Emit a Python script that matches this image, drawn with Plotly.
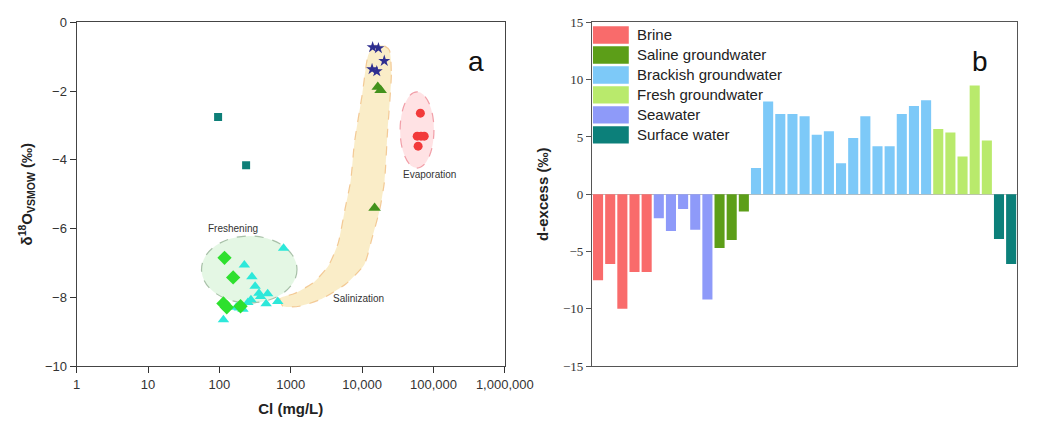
import plotly.graph_objects as go

# ---------------- Panel a data ----------------
brine_cl = [65600, 59200, 67000, 74300, 61000]
brine_o = [-2.64, -3.31, -3.31, -3.31, -3.60]
sea_cl = [14060, 16940, 20460, 13800, 16070]
sea_o = [-0.72, -0.75, -1.12, -1.36, -1.42]
saline_cl = [16600, 18200, 14970]
saline_o = [-1.88, -1.97, -5.40]
brackish_cl = [794, 224, 286, 317, 359, 475, 277, 452, 658, 173, 214, 114, 378, 251, 191]
brackish_o = [-6.57, -7.06, -7.40, -7.68, -7.88, -7.90, -8.07, -8.19, -8.12, -8.29, -8.35, -8.65, -7.98, -8.15, -8.31]
fresh_cl = [118, 156, 114, 127, 198]
fresh_o = [-6.85, -7.42, -8.18, -8.29, -8.26]
surface_cl = [96, 237]
surface_o = [-2.75, -4.16]

x_tickvals = [1, 10, 100, 1000, 10000, 100000, 1000000]
x_ticktext = ["1", "10", "100", "1000", "10,000", "100,000", "1,000,000"]
y_tickvals_a = [0, -2, -4, -6, -8, -10]

# salinization band outline (log10 Cl, d18O)
band_logx = [4.383, 4.41, 4.356, 4.315, 4.247, 4.138, 4.03, 3.772, 3.419, 3.121, 2.89,
             2.849, 3.053, 3.324, 3.528, 3.664, 3.759, 3.84, 3.894, 4.003, 4.084, 4.166, 4.301, 4.383]
band_y = [-0.81, -1.52, -3.20, -4.61, -5.45, -6.29, -7.05, -7.61, -8.06, -8.26, -8.26,
          -8.03, -7.89, -7.56, -7.08, -6.43, -5.45, -4.61, -3.48, -2.08, -0.96, -0.67, -0.67, -0.81]

# ---------------- Panel b data ----------------
groups = ["Brine", "Saline groundwater", "Brackish groundwater", "Fresh groundwater", "Seawater", "Surface water"]
colors = ["#F96B6B", "#5C9E18", "#7DC9F8", "#B9EA6C", "#8E9AF9", "#0C807A"]
order = ["Brine", "Seawater", "Saline groundwater", "Brackish groundwater", "Fresh groundwater", "Surface water"]
dex = {
    "Brine": [-7.5, -6.1, -10.0, -6.8, -6.8],
    "Seawater": [-2.1, -3.2, -1.3, -3.1, -9.2],
    "Saline groundwater": [-4.7, -4.0, -1.5],
    "Brackish groundwater": [2.3, 8.1, 7.0, 7.0, 6.8, 5.2, 5.5, 2.7, 4.9, 6.8, 4.2, 4.2, 7.0, 7.7, 8.2],
    "Fresh groundwater": [5.7, 5.4, 3.3, 9.5, 4.7],
    "Surface water": [-3.9, -6.1],
}
y_tickvals_b = [15, 10, 5, 0, -5, -10, -15]

FONT = "Arial, Liberation Sans, sans-serif"
fig = go.Figure()

# band
fig.add_trace(go.Scatter(x=[10 ** v for v in band_logx], y=band_y, mode="lines", fill="toself",
                         fillcolor="rgba(247,228,170,0.65)", line=dict(color="rgba(240,190,130,0.8)", width=1.2, dash="dash", shape="spline", smoothing=0.6),
                         xaxis="x", yaxis="y", hoverinfo="skip", showlegend=False))

def sc(x, y, sym, col, size):
    fig.add_trace(go.Scatter(x=x, y=y, mode="markers", xaxis="x", yaxis="y", showlegend=False,
                             marker=dict(symbol=sym, color=col, size=size, line=dict(width=0))))

sc(surface_cl, surface_o, "square", "#0E7F78", 8)
sc(brackish_cl, brackish_o, "triangle-up", "#2DE8DA", 10)
sc(fresh_cl, fresh_o, "diamond", "#2EE02E", 11)
sc(saline_cl, saline_o, "triangle-up", "#43921C", 11)
sc(sea_cl, sea_o, "star", "#2F2F90", 9)
sc(brine_cl, brine_o, "circle", "#F23A3A", 9)

# bars
idx = 0
for g in order:
    vals = dex[g]
    fig.add_trace(go.Bar(x=list(range(idx, idx + len(vals))), y=vals, marker_color=colors[groups.index(g)],
                         marker_line_width=0, xaxis="x2", yaxis="y2", showlegend=False, name=g))
    idx += len(vals)

shapes = [
    dict(type="circle", xref="x", yref="y", x0=10 ** (4.77 - 0.237), x1=10 ** (4.77 + 0.237), y0=-3.13 - 1.11, y1=-3.13 + 1.11,
         fillcolor="rgba(255,190,195,0.45)", line=dict(color="rgba(240,150,160,0.9)", width=1.2, dash="dash"), layer="below"),
    dict(type="circle", xref="x", yref="y", x0=10 ** (2.419 - 0.669), x1=10 ** (2.419 + 0.669), y0=-7.19 - 0.975, y1=-7.19 + 0.975,
         fillcolor="rgba(205,240,205,0.55)", line=dict(color="rgba(160,185,160,0.9)", width=1.2, dash="dash"), layer="below"),
]
annotations = [
    dict(text="Freshening", x=2.19, y=-6.0, xref="x", yref="y", showarrow=False, font=dict(size=10, color="#333", family=FONT)),
    dict(text="Salinization", x=3.95, y=-8.03, xref="x", yref="y", showarrow=False, font=dict(size=10, color="#333", family=FONT)),
    dict(text="Evaporation", x=4.95, y=-4.42, xref="x", yref="y", showarrow=False, font=dict(size=10, color="#333", family=FONT)),
    dict(text="a", x=487 / 1053, y=1 - 38 / 430, xref="paper", yref="paper", showarrow=False, font=dict(size=28, color="#111", family=FONT)),
    dict(text="b", x=1018 / 1053, y=1 - 38 / 430, xref="paper", yref="paper", showarrow=False, font=dict(size=28, color="#111", family=FONT)),
]

# manual legend
for i, g in enumerate(groups):
    cy = 29 + i * 20.7
    shapes.append(dict(type="rect", xref="paper", yref="paper", x0=608 / 1053, x1=645 / 1053,
                       y0=1 - (cy + 9) / 430, y1=1 - (cy - 9) / 430, fillcolor=colors[i], line=dict(width=0)))
    annotations.append(dict(text=g, x=651 / 1053, y=1 - cy / 430, xref="paper", yref="paper", xanchor="left", yanchor="middle",
                            showarrow=False, font=dict(size=15, color="#222", family=FONT)))

yd = [(430 - 372) / 430, (430 - 16) / 430]
fig.update_layout(
    width=1053, height=430, margin=dict(l=0, r=0, t=0, b=0),
    paper_bgcolor="white", plot_bgcolor="white",
    shapes=shapes, annotations=annotations, bargap=0.17,
    xaxis=dict(domain=[75 / 1053, 517 / 1053], type="log", range=[0, 6], tickvals=x_tickvals, ticktext=x_ticktext,
               ticks="outside", ticklen=6, tickcolor="#333", showline=True, linecolor="#444", linewidth=1.2, mirror=True,
               showgrid=False, zeroline=False, tickfont=dict(size=13, color="#333", family=FONT),
               title=dict(text="<b>Cl (mg/L)</b>", font=dict(size=15, color="#222", family=FONT), standoff=12)),
    yaxis=dict(domain=yd, range=[-10, 0], tickvals=y_tickvals_a, ticks="outside", ticklen=6, tickcolor="#333",
               showline=True, linecolor="#444", linewidth=1.2, mirror=True, showgrid=False, zeroline=False,
               tickfont=dict(size=13, color="#333", family=FONT),
               title=dict(text="<b>δ<sup>18</sup>O<sub>VSMOW</sub> (‰)</b>", font=dict(size=15, color="#222", family=FONT), standoff=8)),
    xaxis2=dict(domain=[607 / 1053, 1046 / 1053], range=[-0.5, 34.5], showticklabels=False, ticks="", showline=True,
                linecolor="#555", linewidth=1.2, mirror=True, showgrid=False, zeroline=False, anchor="y2"),
    yaxis2=dict(domain=yd, range=[-15, 15], tickvals=y_tickvals_b, ticks="outside", ticklen=5, tickcolor="#555",
                showline=True, linecolor="#555", linewidth=1.2, mirror=True, showgrid=False,
                zeroline=True, zerolinecolor="#bbb", zerolinewidth=1, anchor="x2",
                tickfont=dict(size=13, color="#333", family="Liberation Serif, Times New Roman, serif"),
                title=dict(text="<b>d-excess (‰)</b>", font=dict(size=15, color="#222", family=FONT), standoff=10)),
)

fig.write_html("out.html", post_script="document.body.style.margin='0px';document.body.style.overflow='hidden';")
